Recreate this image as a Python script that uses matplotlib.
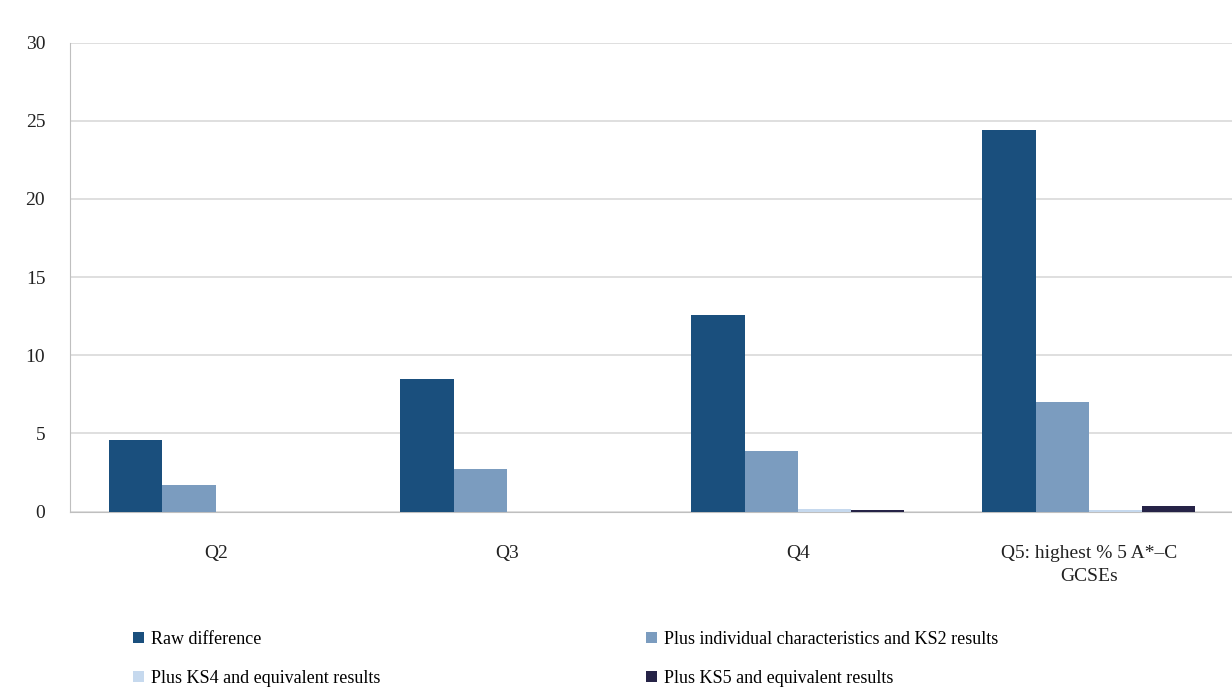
import numpy as np
import matplotlib.pyplot as plt

# Data
categories = ['Q2', 'Q3', 'Q4', 'Q5: highest % 5 A*\u2013C\nGCSEs']
raw = [4.6, 8.5, 12.6, 24.4]
plus_ks2 = [1.7, 2.75, 3.9, 7.0]
plus_ks4 = [0.0, 0.0, 0.15, 0.1]
plus_ks5 = [0.0, 0.0, 0.1, 0.35]
series_names = ['Raw difference',
                'Plus individual characteristics and KS2 results',
                'Plus KS4 and equivalent results',
                'Plus KS5 and equivalent results']
colors = ['#1a4f7d', '#7b9cbf', '#c6d9ee', '#262347']

plt.rcParams['font.family'] = ['Liberation Serif', 'DejaVu Serif']

fig = plt.figure(figsize=(12.32, 6.98), dpi=100)
ax = fig.add_axes([0.057, 0.267, 0.945, 0.672])

x = np.arange(len(categories))
w = 0.183
bars = []
for i, vals in enumerate([raw, plus_ks2, plus_ks4, plus_ks5]):
    bars.append(ax.bar(x + (i - 1.5) * w, vals, w, color=colors[i],
                       label=series_names[i], zorder=3))

ax.set_xlim(-0.5, 3.5)
ax.set_ylim(0, 30)
ax.set_yticks(range(0, 31, 5))
ax.set_xticks(x)
ax.set_xticklabels(categories, linespacing=1.5)
ax.tick_params(axis='both', labelsize=14, length=0, colors='#222222')
ax.tick_params(axis='y', pad=18)
ax.tick_params(axis='x', pad=24)
ax.grid(axis='y', color='#d9d9d9', linewidth=1.2, zorder=0)
for s in ['top', 'right']:
    ax.spines[s].set_visible(False)
ax.spines['left'].set_color('#bfbfbf')
ax.spines['bottom'].set_color('#bfbfbf')

# legend fills column-wise, so reorder to get two rows
order = [0, 2, 1, 3]
ax.legend([bars[k] for k in order], [series_names[k] for k in order],
          loc='upper left', bbox_to_anchor=(0.04, -0.22), ncol=2, frameon=False,
          fontsize=13, handlelength=0.6, handleheight=0.6, handletextpad=0.4,
          columnspacing=14.7, labelspacing=1.2)

plt.savefig('out.png', dpi=100)
